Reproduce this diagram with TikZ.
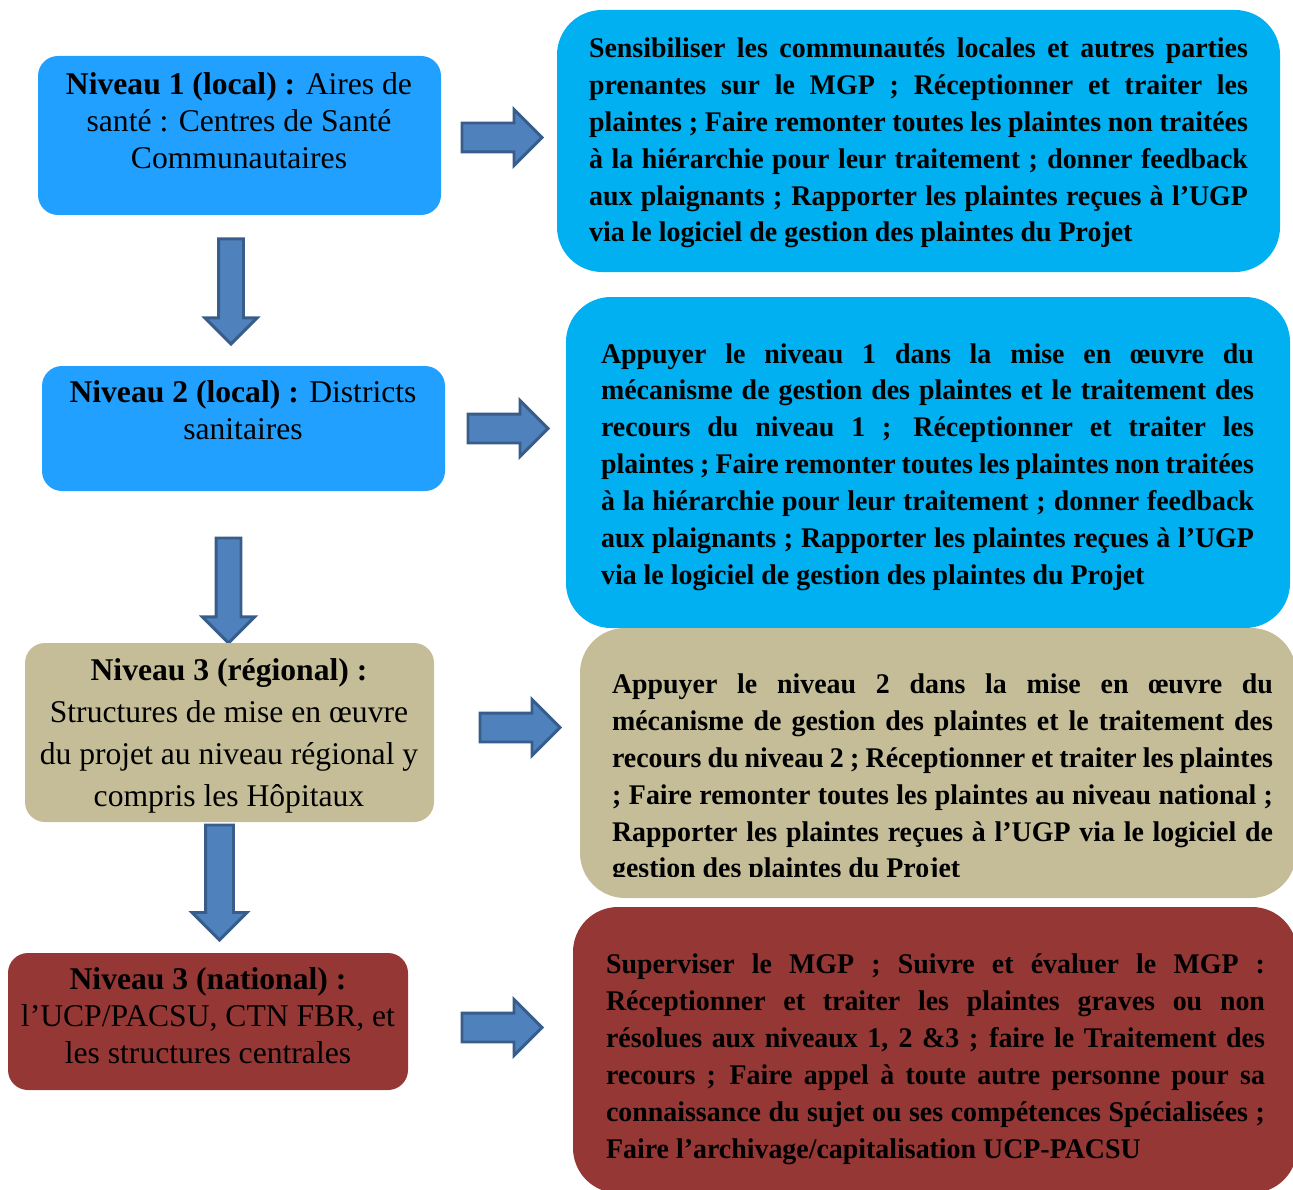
\documentclass[tikz,border=0pt]{standalone}
\usepackage{fontspec}
\setmainfont{Liberation Serif}
\newfontfamily\boxfont[FakeStretch=0.98]{Liberation Serif}
\usetikzlibrary{shapes.arrows}
\definecolor{bleuL}{HTML}{22A0FF}
\definecolor{bleuR}{HTML}{00B0F0}
\definecolor{beige}{HTML}{C4BD97}
\definecolor{rouge}{HTML}{953735}
\definecolor{flfill}{HTML}{4F81BD}
\definecolor{fldraw}{HTML}{385D8A}
\tolerance=10000
\hyphenpenalty=10000

\begin{document}
\begin{tikzpicture}[x=0.02cm, y=-0.02cm,
  lbox/.style={rounded corners=0.4cm},
  rbox/.style={rounded corners=0.9cm},
  ltxt/.style={align=center, inner sep=0pt, font=\fontsize{18}{21}\selectfont},
  rtxt/.style={align=justify, inner sep=0pt, font=\boxfont\bfseries\fontsize{16.2}{21}\selectfont},
  fleche/.style={single arrow, draw=fldraw, fill=flfill, line width=1.7pt, inner xsep=0pt,
    inner ysep=0.26cm, single arrow head extend=0.27cm, minimum height=1.6cm, anchor=tail},
  flechebas/.style={fleche, rotate=-90, inner ysep=0.22cm, minimum height=2.1cm}]
  \useasboundingbox (0,0) rectangle (1293,1189);

  % Niveau 1
  \fill[lbox, bleuL] (38,56) rectangle (441,215);
  \node[ltxt] (n1) at (239,121) {\textbf{Niveau 1 (local) :} Aires de\\ santé : Centres de Santé\\ Communautaires};
  \fill[rbox, bleuR] (557,10) rectangle (1280,272);
  \node[rtxt, text width=13.18cm] (r1) at (918.5,143) {Sensibiliser les communautés locales et autres parties\linebreak
    prenantes sur le MGP ; Réceptionner et traiter les\linebreak
    plaintes ; Faire remonter toutes les plaintes non traitées\linebreak
    à la hiérarchie pour leur traitement ; donner feedback\linebreak
    aux plaignants ; Rapporter les plaintes reçues à l’UGP\linebreak
    via le logiciel de gestion des plaintes du Projet};
  \node[fleche] (f1) at (460.5,137.5) {};
  \node[flechebas] (b1) at (231,237.5) {};

  % Niveau 2
  \fill[lbox, bleuL] (42,366) rectangle (445,491);
  \node[ltxt] (n2) at (243,410.5) {\textbf{Niveau 2 (local) :} Districts\\ sanitaires};
  \fill[rbox, bleuR] (566,297) rectangle (1290,628);
  \node[rtxt, text width=13.06cm] (r2) at (927.5,467) {Appuyer le niveau 1 dans la mise en œuvre du\linebreak
    mécanisme de gestion des plaintes et le traitement des\linebreak
    recours du niveau 1 ; Réceptionner et traiter les\linebreak
    plaintes ; Faire remonter toutes les plaintes non traitées\linebreak
    à la hiérarchie pour leur traitement ; donner feedback\linebreak
    aux plaignants ; Rapporter les plaintes reçues à l’UGP\linebreak
    via le logiciel de gestion des plaintes du Projet};
  \node[fleche] (f2) at (466.5,428.5) {};
  \node[flechebas] (b2) at (228.5,536.5) {};

  % Niveau 3 regional
  \fill[lbox, beige] (25,643) rectangle (434,822);
  \node[ltxt, font=\fontsize{18}{23.9}\selectfont] (n3) at (229,735.5) {\textbf{Niveau 3 (régional) :}\\ Structures de mise en œuvre\\ du projet au niveau régional y\\ compris les Hôpitaux};
  \fill[rbox, beige] (580,628) rectangle (1296,898);
  \begin{scope}
    \clip (580,628) rectangle (1296,876);
    \node[rtxt, text width=13.22cm] (r3) at (942.5,779) {Appuyer le niveau 2 dans la mise en œuvre du\linebreak
      mécanisme de gestion des plaintes et le traitement des\linebreak
      recours du niveau 2 ; Réceptionner et traiter les plaintes\linebreak
      ; Faire remonter toutes les plaintes au niveau national ;\linebreak
      Rapporter les plaintes reçues à l’UGP via le logiciel de\linebreak
      gestion des plaintes du Projet};
  \end{scope}
  \node[fleche] (f3) at (478.5,727.5) {};
  \node[flechebas, minimum height=2.3cm, inner ysep=0.25cm] (b3) at (219.5,823.5) {};

  % Niveau 3 national
  \fill[lbox, rouge] (8,953) rectangle (408,1090);
  \node[ltxt] (n4) at (208,1016) {\textbf{Niveau 3 (national) :}\\ l’UCP/PACSU, CTN FBR, et\\ les structures centrales};
  \fill[rbox, rouge] (573,907) rectangle (1297,1193);
  \node[rtxt, text width=13.18cm] (r4) at (935.5,1059) {Superviser le MGP ; Suivre et évaluer le MGP :\linebreak
    Réceptionner et traiter les plaintes graves ou non\linebreak
    résolues aux niveaux 1, 2 \&3 ; faire le Traitement des\linebreak
    recours ; Faire appel à toute autre personne pour sa\linebreak
    connaissance du sujet ou ses compétences Spécialisées ;\linebreak
    Faire l’archivage/capitalisation UCP-PACSU};
  \node[fleche] (f4) at (460.5,1027.5) {};
\end{tikzpicture}
\end{document}
